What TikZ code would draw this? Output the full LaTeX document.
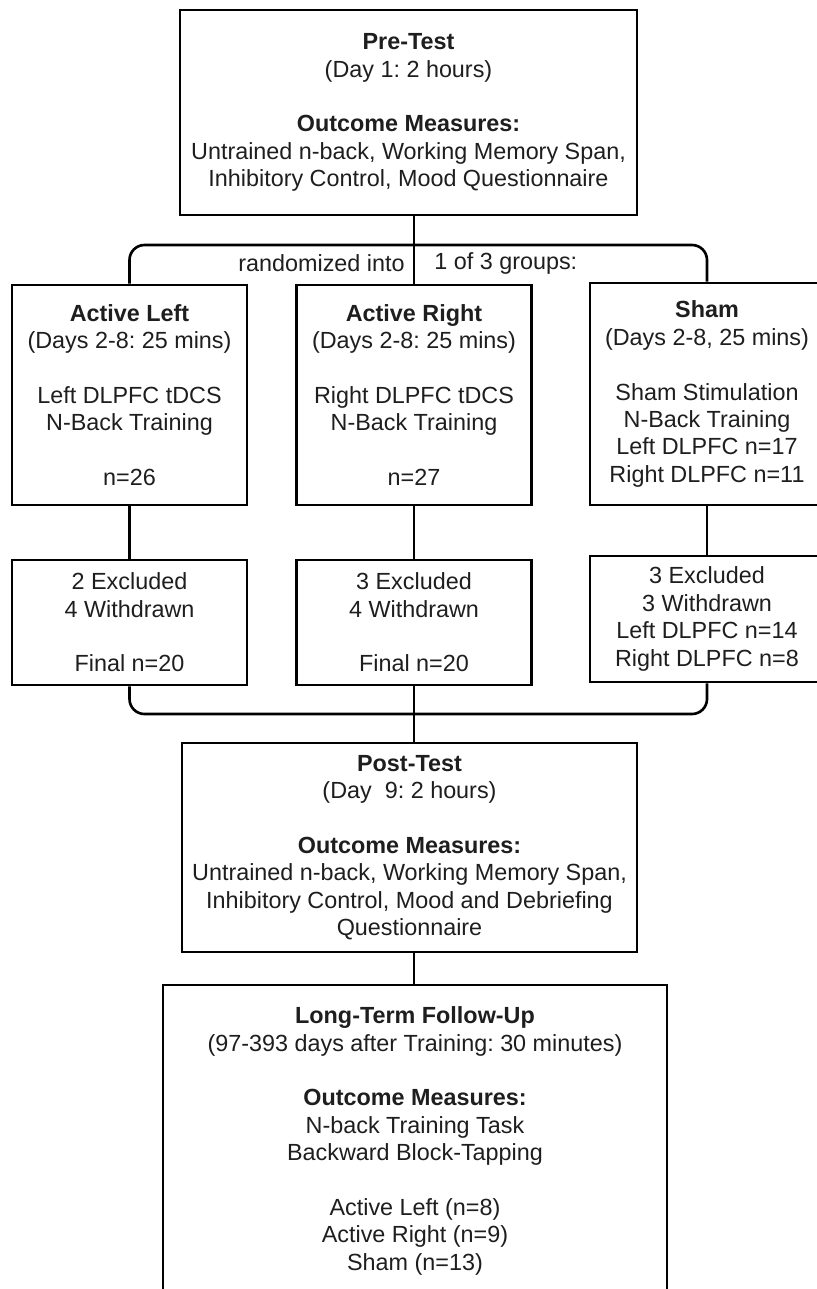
\documentclass[tikz,border=0pt]{standalone}
\usepackage{fontspec}
\setmainfont{Liberation Sans}
\frenchspacing
\definecolor{ink}{HTML}{1E1E1E}

\begin{document}
\begin{tikzpicture}[x=0.02cm,y=-0.02cm,font=\fontsize{13.3}{15.6}\selectfont,
  stage/.style={draw,line width=1.5pt,align=center,inner sep=0pt,text=ink},
  link/.style={line width=1.5pt},
  lab/.style={inner sep=0pt,text=ink}]
\useasboundingbox[fill=white] (0,0) rectangle (817,1289);
% pre-test
\node[stage,minimum width=9.14cm,minimum height=4.1cm] (pre) at (408.5,112.5) {\textbf{Pre-Test}\\(Day 1: 2 hours)\\[15.6pt]\textbf{Outcome Measures:}\\Untrained n-back, Working Memory Span,\\Inhibitory Control, Mood Questionnaire};
% the three groups
\node[stage,minimum width=4.7cm,minimum height=4.4cm] (left) at (129.5,395) {\textbf{Active Left}\\(Days 2-8: 25 mins)\\[15.6pt]Left DLPFC tDCS\\N-Back Training\\[15.6pt]n=26};
\node[stage,minimum width=4.7cm,minimum height=4.4cm] (right) at (414,395) {\textbf{Active Right}\\(Days 2-8: 25 mins)\\[15.6pt]Right DLPFC tDCS\\N-Back Training\\[15.6pt]n=27};
\node[stage,minimum width=4.68cm,minimum height=4.44cm] (sham) at (707,394) {\textbf{Sham}\\(Days 2-8, 25 mins)\\[15.6pt]Sham Stimulation\\N-Back Training\\Left DLPFC n=17\\Right DLPFC n=11};
% exclusions
\node[stage,minimum width=4.7cm,minimum height=2.5cm] (exleft) at (129.5,622.5) {2 Excluded\\4 Withdrawn\\[15.6pt]Final n=20};
\node[stage,minimum width=4.7cm,minimum height=2.5cm] (exright) at (414,622.5) {3 Excluded\\4 Withdrawn\\[15.6pt]Final n=20};
\node[stage,minimum width=4.68cm,minimum height=2.52cm] (exsham) at (707,619) {3 Excluded\\3 Withdrawn\\Left DLPFC n=14\\Right DLPFC n=8};
% post-test and follow-up
\node[stage,minimum width=9.1cm,minimum height=4.18cm] (post) at (409.5,847.5) {\textbf{Post-Test}\\(Day~~9: 2 hours)\\[15.6pt]\textbf{Outcome Measures:}\\Untrained n-back, Working Memory Span,\\Inhibitory Control, Mood and Debriefing\\Questionnaire};
\node[stage,minimum width=10.08cm,minimum height=6.24cm] (follow) at (415,1141) {\textbf{Long-Term Follow-Up}\\(97-393 days after Training: 30 minutes)\\[15.6pt]\textbf{Outcome Measures:}\\N-back Training Task\\Backward Block-Tapping\\[15.6pt]Active Left (n=8)\\Active Right (n=9)\\Sham (n=13)};
% connectors
\coordinate (split) at (414,245);
\coordinate (merge) at (414,714);
\draw[link] (pre.south -| right.north) -- (right.north);
\draw[link,rounded corners=0.3cm] (left.north) |- (split) -| (sham.north);
\node[lab,anchor=east] (rlab) at (405,263) {randomized into};
\node[lab,anchor=west] (glab) at (434,263) {1 of 3 groups:};
\draw[link] (left.south) -- (exleft.north);
\draw[link] (right.south) -- (exright.north);
\draw[link] (sham.south) -- (exsham.north);
\draw[link,rounded corners=0.3cm] (exleft.south) |- (merge) -| (exsham.south);
\draw[link] (exright.south) -- (post.north -| exright.south);
\draw[link] (post.south -| exright.south) -- (follow.north -| exright.south);
\end{tikzpicture}
\end{document}
